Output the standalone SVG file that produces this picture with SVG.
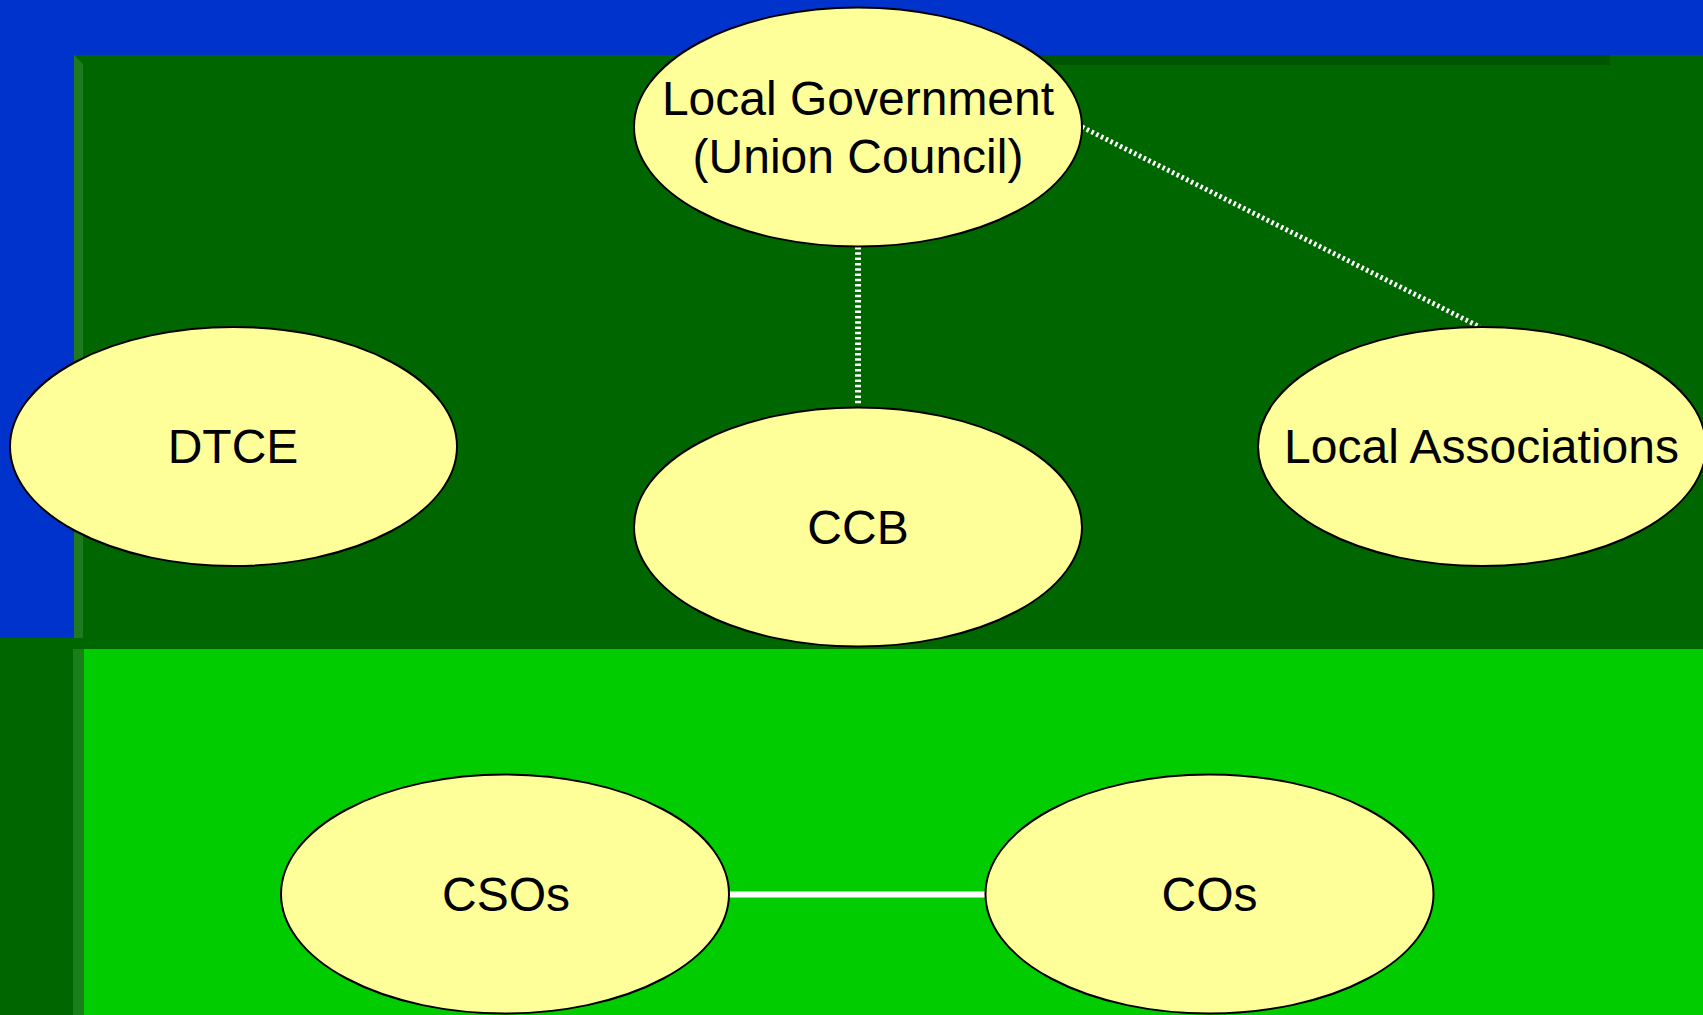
<svg xmlns="http://www.w3.org/2000/svg" width="1703" height="1015" viewBox="0 0 1703 1015">
  <style>
    .node ellipse { fill: #FFFF99; stroke: #000000; stroke-width: 2; }
    .node text { font-family: "Liberation Sans", Arial, sans-serif; font-size: 48px; fill: #000000; text-anchor: middle; }
    .dotted { stroke: #FFFFFF; fill: none; stroke-dasharray: 2.5 2.8; }
    .solid { stroke: #FFFFFF; fill: none; stroke-width: 6; }
  </style>

  <!-- slide background -->
  <g id="background">
    <rect x="0" y="0" width="1703" height="1015" fill="#006600"/>
    <rect x="0" y="0" width="1703" height="55" fill="#0033CC"/>
    <rect x="0" y="0" width="74" height="638" fill="#0033CC"/>
    <!-- bevelled edge of the upper panel -->
    <polygon points="74,55 83,64 83,638 74,638" fill="#1E7A1E"/>
    <rect x="858" y="55" width="752" height="10" fill="#005500"/>
    <!-- lower panel -->
    <rect x="84" y="649" width="1619" height="366" fill="#00CC00"/>
    <rect x="73" y="649" width="11" height="366" fill="#1A7E1A"/>
  </g>

  <!-- connectors -->
  <g id="connectors">
    <line class="dotted" x1="858" y1="247" x2="858" y2="406" stroke-width="6"/>
    <line class="dotted" x1="1082" y1="127" x2="1480" y2="327" stroke-width="5"/>
    <line class="solid" x1="729" y1="894.5" x2="986" y2="894.5"/>
  </g>

  <g id="node-local-government" class="node">
    <ellipse cx="858" cy="127" rx="224" ry="119.5"/>
    <text x="858" y="115">Local Government</text>
    <text x="858" y="173">(Union Council)</text>
  </g>

  <g id="node-dtce" class="node">
    <ellipse cx="233.5" cy="446.5" rx="223.5" ry="119.5"/>
    <text x="233" y="463">DTCE</text>
  </g>

  <g id="node-ccb" class="node">
    <ellipse cx="858" cy="527" rx="224" ry="119.5"/>
    <text x="858" y="543.5">CCB</text>
  </g>

  <g id="node-local-associations" class="node">
    <ellipse cx="1482" cy="446.5" rx="224" ry="119.5"/>
    <text x="1481.5" y="463">Local Associations</text>
  </g>

  <g id="node-csos" class="node">
    <ellipse cx="505" cy="894" rx="224" ry="119.5"/>
    <text x="506" y="910.5">CSOs</text>
  </g>

  <g id="node-cos" class="node">
    <ellipse cx="1209.5" cy="894" rx="224" ry="119.5"/>
    <text x="1209.5" y="910.5">COs</text>
  </g>
</svg>
